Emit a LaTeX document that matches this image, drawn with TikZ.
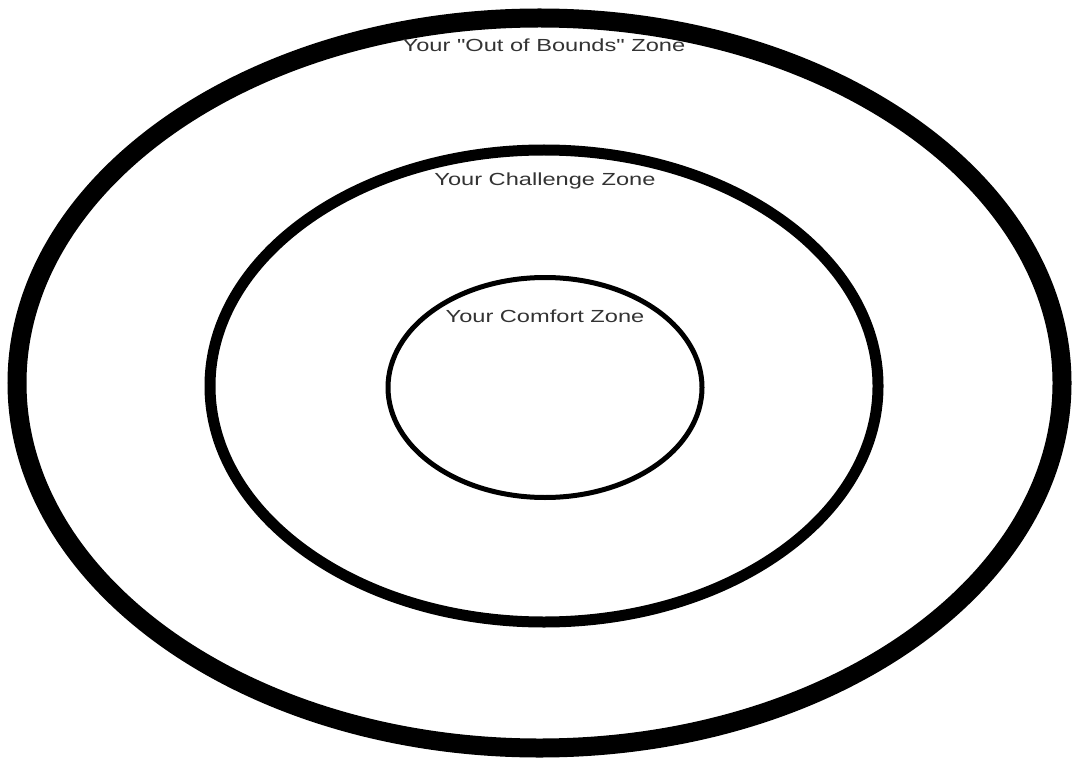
\documentclass[tikz,border=0pt]{standalone}
\usepackage{fontspec}
\setmainfont{Liberation Sans}[Ligatures=TeXOff]
\usetikzlibrary{shapes.geometric, positioning}

\begin{document}
\begin{tikzpicture}[x=1pt, y=-1pt,
        zone/.style={ellipse, draw=black, inner sep=0pt, outer sep=0pt},
        label/.style={anchor=base, inner sep=0pt, text=black!80, xscale=1.35, font=\fontsize{17.5}{20}\selectfont}]

        \useasboundingbox (0,0) rectangle (1075,767);

        % rings, outside in
        \node[zone, line width=19pt, minimum width=1045pt, minimum height=730pt] (bounds) at (539.5,383) {};
        \node[zone, line width=11pt, minimum width=668pt, minimum height=472pt] (challenge) at (544,386) {};
        \node[zone, line width=5pt, minimum width=314pt, minimum height=220pt] (comfort) at (545,387.5) {};

        \node[label] (boundstext) at (544,51.5) {Your "Out of Bounds" Zone};
        \node[label] (challengetext) at (545,186) {Your Challenge Zone};
        \node[label] (comforttext) at (545,322) {Your Comfort Zone};
    \end{tikzpicture}
\end{document}
